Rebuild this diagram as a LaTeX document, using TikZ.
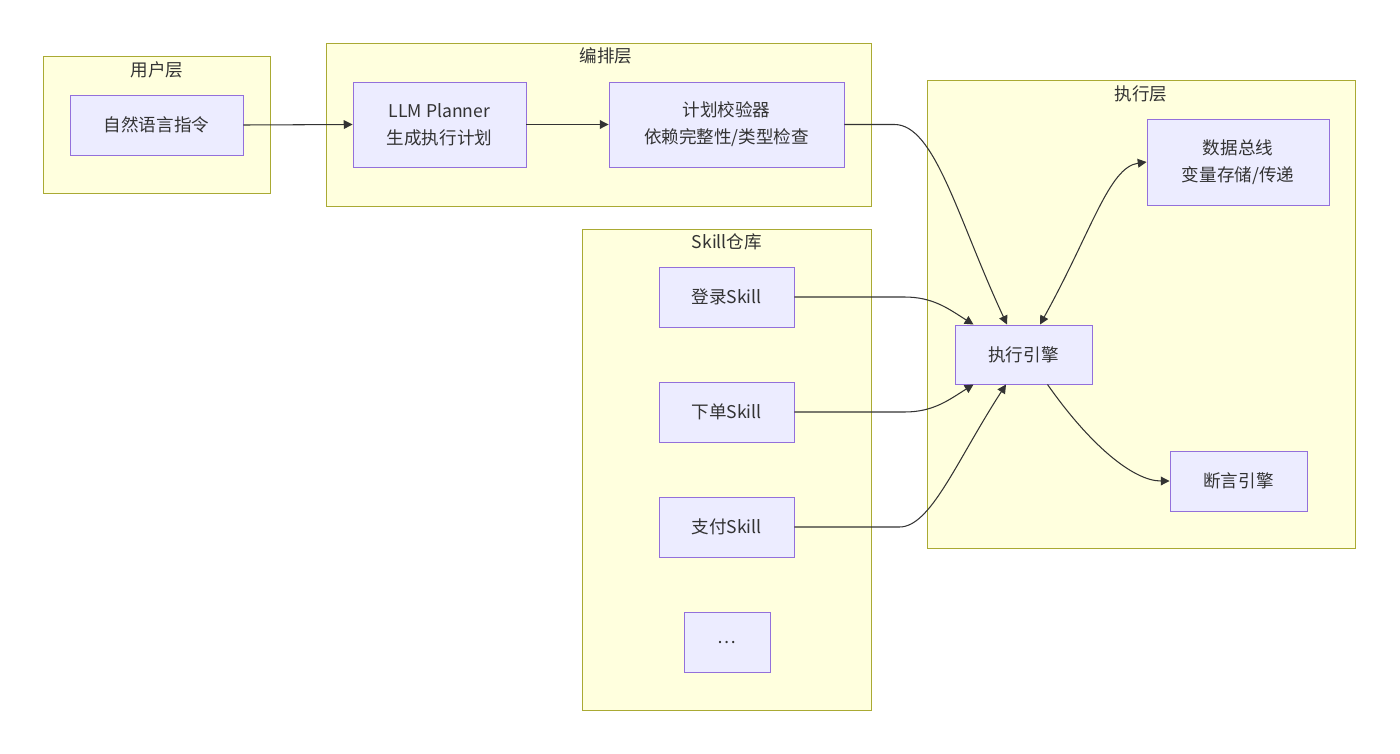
\documentclass[tikz,border=0pt]{standalone}
\usepackage{fontspec}
\setmainfont{Noto Sans CJK SC}
\usepackage{xcolor}
\usetikzlibrary{arrows.meta, positioning, calc}

\definecolor{layerfill}{HTML}{FFFFDE}
\definecolor{layerdraw}{HTML}{AAAA33}
\definecolor{boxfill}{HTML}{ECECFF}
\definecolor{boxdraw}{HTML}{9370DB}
\definecolor{inkgray}{HTML}{333333}

\begin{document}
\begin{tikzpicture}[
    x=0.02cm, y=0.02cm,
    every node/.style={font=\fontsize{10}{15.5}\selectfont, align=center, text=inkgray},
    arr/.style={-{Triangle[length=5pt,width=5pt]}, line width=0.6pt, draw=inkgray},
    biarr/.style={{Triangle[length=5pt,width=5pt]}-{Triangle[length=5pt,width=5pt]}, line width=0.6pt, draw=inkgray},
    layer/.style={
      rectangle, draw=layerdraw, line width=0.55pt,
      fill=layerfill, inner sep=0pt
    },
    layertitle/.style={font=\fontsize{10}{12}\selectfont},
    card/.style={
      rectangle, draw=boxdraw, line width=0.55pt,
      fill=boxfill, inner sep=0pt,
      minimum width=2.70cm, minimum height=1.20cm
    }
  ]

    \useasboundingbox (0,0) rectangle (1400,-754);

    % layers
    \node[layer, minimum width=4.56cm, minimum height=2.74cm] (userL) at (157,-124.5) {};
    \node[layer, minimum width=10.92cm, minimum height=3.26cm] (orchL) at (599,-124.5) {};
    \node[layer, minimum width=8.58cm, minimum height=9.38cm] (execL) at (1141.5,-314.5) {};
    \node[layer, minimum width=5.80cm, minimum height=9.64cm] (skillL) at (727,-470) {};

    \node[layertitle] at (157,-70) {用户层};
    \node[layertitle] at (606,-56) {编排层};
    \node[layertitle] at (1141,-94) {执行层};
    \node[layertitle] at (727,-242) {Skill仓库};

    % user / orchestration row
    \node[card, minimum width=3.46cm] (nl) at (156.5,-125) {自然语言指令};
    \node[card, minimum width=3.46cm, minimum height=1.70cm] (llm) at (439.5,-124.5)
      {LLM Planner\\生成执行计划};
    \node[card, minimum width=4.70cm, minimum height=1.70cm] (verify) at (726.5,-124.5)
      {计划校验器\\依赖完整性/类型检查};

    % execution layer
    \node[card, minimum width=3.64cm, minimum height=1.72cm] (bus) at (1238,-162)
      {数据总线\\变量存储/传递};
    \node[card, minimum width=2.74cm, minimum height=1.18cm] (engine) at (1023.5,-354.5) {执行引擎};
    \node[card, minimum width=2.74cm] (assert) at (1238.5,-481) {断言引擎};

    % skill store
    \node[card] (login) at (726.5,-297) {登录Skill};
    \node[card] (order) at (726.5,-412) {下单Skill};
    \node[card] (pay) at (726.5,-527) {支付Skill};
    \node[card, minimum width=1.72cm] (more) at (727,-642) {…};

    \draw[arr] (nl.east) -- (llm.west);
    \draw[arr] (llm.east) -- (verify.west);
    \draw[arr] (verify.east) -- ++(1.0cm,0)
      to[out=0, in=115, out looseness=0.45, in looseness=1.3] ([xshift=-0.33cm]engine.north);
    \draw[biarr] ([xshift=0.33cm]engine.north)
      to[out=61, in=188, out looseness=1.4, in looseness=0.5] (bus.west);

    \draw[arr] (login.east) -- ++(2.2cm,0) to[out=0, in=148] ([xshift=-1.0cm]engine.north);
    \draw[arr] (order.east) -- ++(2.2cm,0) to[out=0, in=-148] ([xshift=-1.0cm]engine.south);
    \draw[arr] (pay.east) -- ++(2.1cm,0)
      to[out=0, in=-123, out looseness=0.45, in looseness=1.3] ([xshift=-0.35cm]engine.south);
    \draw[arr] ([xshift=0.48cm]engine.south)
      to[out=-55, in=180, out looseness=1.2, in looseness=0.6] (assert.west);

  \end{tikzpicture}
\end{document}
